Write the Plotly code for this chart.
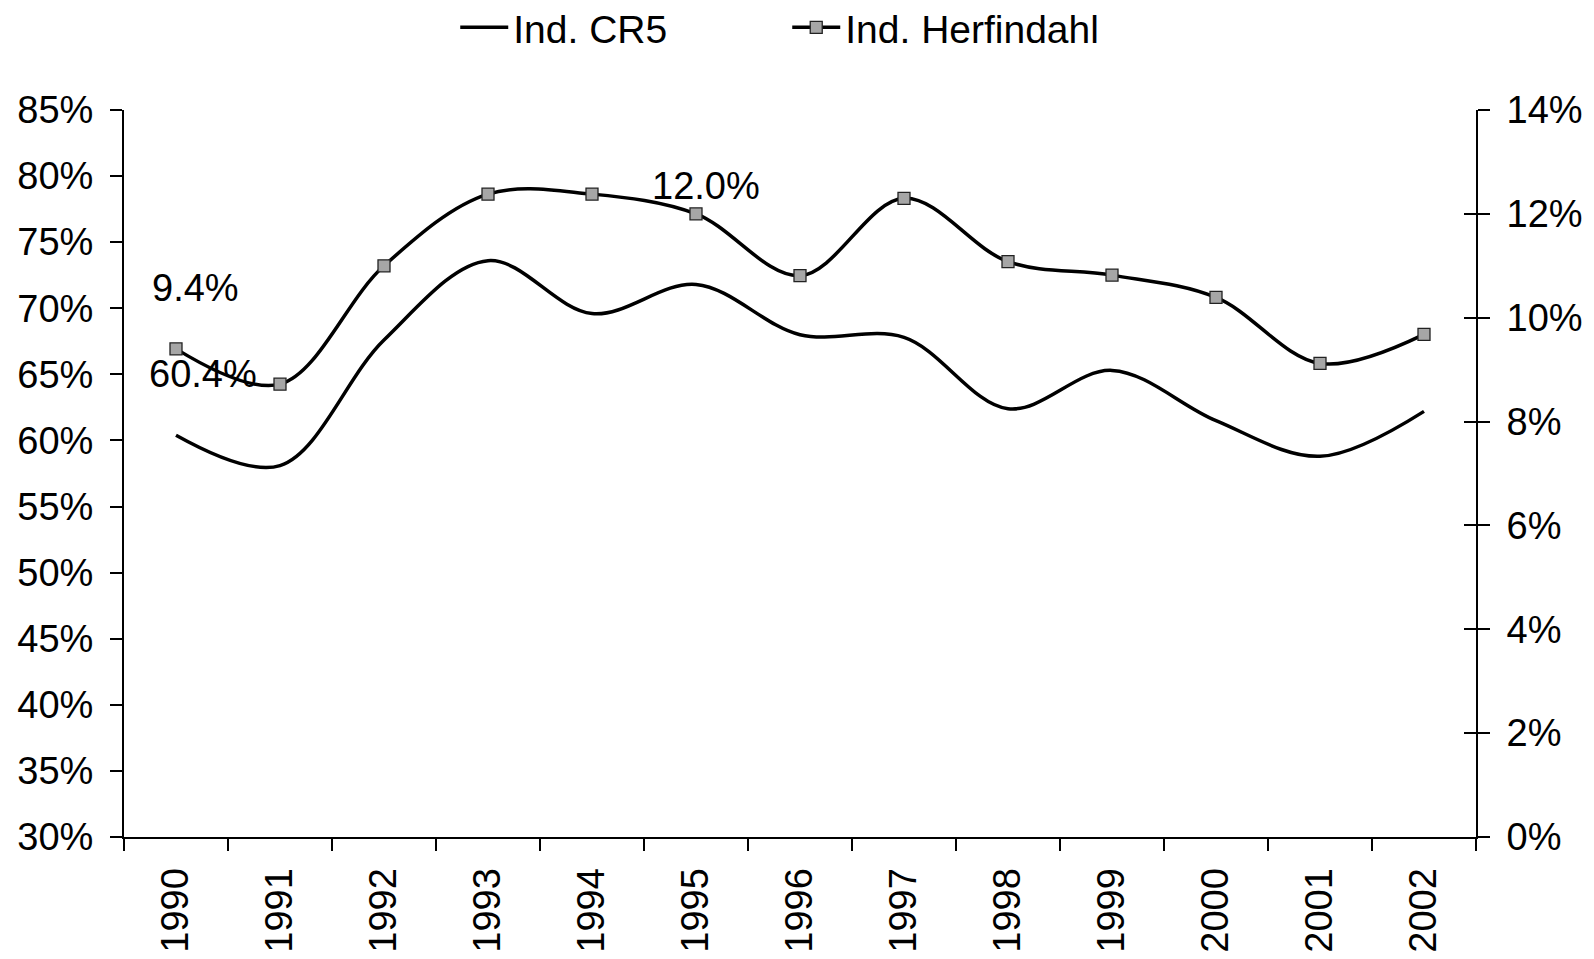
import plotly.graph_objects as go

years = ["1990", "1991", "1992", "1993", "1994", "1995", "1996",
         "1997", "1998", "1999", "2000", "2001", "2002"]
cr5 = [60.4, 58.1, 67.6, 73.6, 69.6, 71.8, 68.0, 67.8, 62.4, 65.3, 61.5, 58.8, 62.2]
herfindahl = [9.4, 8.72, 11.0, 12.38, 12.38, 12.0, 10.81, 12.30, 11.08, 10.82, 10.39, 9.12, 9.68]

FONT = "Liberation Sans, Arial, sans-serif"

fig = go.Figure()
fig.add_trace(go.Scatter(
    x=years, y=cr5, name="Ind. CR5", mode="lines",
    line=dict(color="black", width=3.5, shape="spline", smoothing=1),
    yaxis="y", cliponaxis=False,
))
fig.add_trace(go.Scatter(
    x=years, y=herfindahl, name="Ind. Herfindahl", mode="lines+markers",
    line=dict(color="black", width=3.5, shape="spline", smoothing=1),
    marker=dict(symbol="square", size=12, color="#a6a6a6",
                line=dict(color="#222222", width=1.3)),
    yaxis="y2", cliponaxis=False,
))
# invisible trace to activate the inner-tick copy of the right axis
fig.add_trace(go.Scatter(x=years, y=herfindahl, yaxis="y3", mode="none",
                         showlegend=False, hoverinfo="skip"))

annots = [
    dict(x=0, y=herfindahl[0], yref="y2", text="9.4%", xshift=19, yshift=61),
    dict(x=0, y=cr5[0], yref="y", text="60.4%", xshift=27, yshift=61),
    dict(x=5, y=herfindahl[5], yref="y2", text="12.0%", xshift=10, yshift=28),
]
for a in annots:
    a.update(xref="x", showarrow=False, font=dict(family=FONT, size=38, color="black"))

fig.update_layout(
    template="none",
    width=1594, height=959,
    margin=dict(l=124, r=118, t=110, b=122, pad=0, autoexpand=False),
    paper_bgcolor="white", plot_bgcolor="white",
    font=dict(family=FONT, color="black"),
    showlegend=True,
    legend=dict(orientation="h", x=0.245, xanchor="left", y=1.1135, yref="paper",
                yanchor="middle", font=dict(family=FONT, size=39),
                bgcolor="rgba(0,0,0,0)", traceorder="normal",
                entrywidth=269, itemwidth=48),
    annotations=annots,
    xaxis=dict(
        type="category", range=[-0.5, 12.5], showgrid=False, automargin=False,
        showline=True, linecolor="black", linewidth=2,
        ticks="outside", ticklen=12, tickwidth=2, tickcolor="black",
        tickson="boundaries", tickangle=-90,
        tickfont=dict(family=FONT, size=38), ticklabelstandoff=14,
        zeroline=False,
    ),
    yaxis=dict(
        range=[30, 85], dtick=5, tick0=30, ticksuffix="%", showgrid=False,
        automargin=False,
        showline=True, linecolor="black", linewidth=2,
        ticks="outside", ticklen=12, tickwidth=2, tickcolor="black",
        tickfont=dict(family=FONT, size=38), ticklabelstandoff=9,
        zeroline=False,
    ),
    yaxis2=dict(
        range=[0, 14], dtick=2, tick0=0, ticksuffix="%", showgrid=False,
        overlaying="y", side="right", automargin=False,
        showline=True, linecolor="black", linewidth=2,
        ticks="outside", ticklen=12, tickwidth=2, tickcolor="black",
        tickfont=dict(family=FONT, size=38), ticklabelstandoff=9,
        zeroline=False,
    ),
    yaxis3=dict(
        range=[0, 14], dtick=2, tick0=0, showgrid=False,
        overlaying="y", side="right", showticklabels=False, automargin=False,
        showline=False, ticks="inside", ticklen=12, tickwidth=2, tickcolor="black",
        zeroline=False,
    ),
)

fig.write_html("out.html",
               config={"displayModeBar": False},
               post_script="document.body.style.margin='0';document.body.style.overflow='hidden';")
